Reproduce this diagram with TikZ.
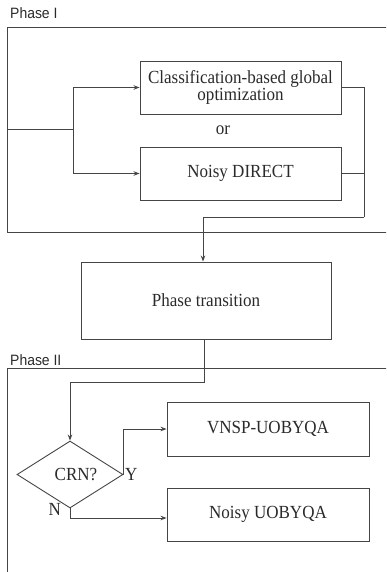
\documentclass[tikz,border=0pt]{standalone}
\usepackage{fontspec}
\setmainfont{Liberation Serif}[FakeStretch=0.92]
\newfontfamily\labelfont{Liberation Sans}[FakeStretch=0.93]
\usetikzlibrary{arrows.meta,shapes.geometric,calc}
\definecolor{ln}{HTML}{454545}
\definecolor{tx}{HTML}{2A2A2A}
\begin{document}
\begin{tikzpicture}[x=1pt,y=-1pt,
  every node/.style={text=tx},
  line/.style={draw=ln,line width=0.9pt},
  arr/.style={line,-{Stealth[length=6pt,width=4.5pt]}},
  box/.style={line,rectangle,inner sep=0pt,align=center,font=\fontsize{18.5}{17.5}\selectfont},
  txt/.style={font=\fontsize{18.5}{17.5}\selectfont,inner sep=0pt},
  phase/.style={font=\labelfont\fontsize{15}{15}\selectfont,inner sep=0pt,anchor=base west}]
\useasboundingbox (0,0) rectangle (386,572);
\clip (0,0) rectangle (386,572);
% frames
\draw[line] (400,27) -- (7,27) -- (7,232) -- (400,232);
\draw[line] (400,368) -- (7,368) -- (7,590);
\node[phase] (p1) at (10,19) {Phase I};
\node[phase] (p2) at (10,365) {Phase II};
% nodes
\node[box,minimum width=201pt,minimum height=53pt] (cls) at (240.5,87.5) {Classification-based global\\optimization};
\node[txt,anchor=base] (or) at (223,135) {or};
\node[box,minimum width=201pt,minimum height=53pt] (nd) at (240.5,173.5) {Noisy DIRECT};
\node[box,minimum width=250pt,minimum height=77pt] (pt) at (206,300.5) {Phase transition};
\node[box,minimum width=202pt,minimum height=54pt] (vn) at (268,429) {VNSP-UOBYQA};
\node[box,minimum width=202pt,minimum height=53pt] (nu) at (268,514.5) {Noisy UOBYQA};
\node[line,diamond,inner sep=0pt,minimum width=106pt,minimum height=67pt,aspect=1.58,font=\fontsize{18.5}{17}\selectfont] (dm) at (70,474.5) {\hspace{12pt}CRN?};
\node[txt,anchor=base west] (yl) at (125,480) {Y};
\node[txt,anchor=base east] (nl) at (61,515) {N};
% connectors
\coordinate (in1) at (7,129);
\coordinate (split) at (73,129);
\coordinate (merge) at (364,217);
\coordinate (bend) at (70,382);
\draw[line] (in1) -- (split);
\draw[arr] (split) |- (cls.west);
\draw[arr] (split) |- (nd.west);
\draw[line] (cls.east) -| (merge);
\draw[line] (nd.east) -- (nd.east -| merge);
\draw[arr] (merge) -| ([xshift=-3pt]pt.north);
\draw[line] ([xshift=-2pt]pt.south) |- (bend);
\draw[arr] (bend) -- (dm.north);
\draw[arr] (dm.east) |- (vn.west);
\draw[arr] (dm.south) |- ([yshift=-3.5pt]nu.west);
\end{tikzpicture}
\end{document}
